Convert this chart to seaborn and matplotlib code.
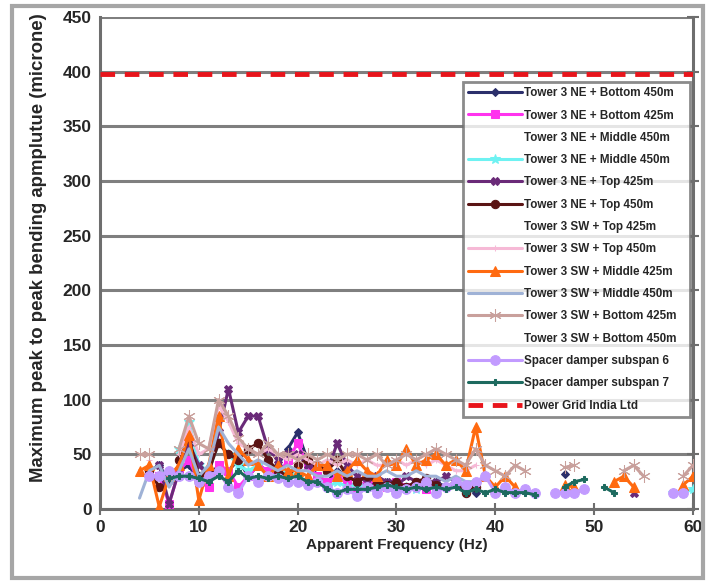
import numpy as np
import pandas as pd
import seaborn as sns
import matplotlib.pyplot as plt
from matplotlib.patches import Rectangle

nan = np.nan

# frequency grid (Hz), gaps in the measurements are NaN
freq = [4, 5, 6, 7, 8, 9, 10, 11, 12, 13, 14, 15, 16, 17, 18, 19, 20, 21, 22, 23, 24,
        25, 26, 27, 28, 29, 30, 31, 32, 33, 34, 35, 36, 37, 38, 39, 40, 41, 42, 43, 44,
        45, 46, 47, 48, 49, 50, 51, 52, 53, 54, 55, 56, 57, 58, 59, 60]

ne_bottom_450 = [nan, 35, 40, 25, 35, 40, 25, 30, 40, 35, 45, 30, 40, 35, 40, 55, 70, 45, 30, 25, 35,
                 30, 25, 30, 20, 25, 25, 20, 25, 20, 25, 20, 25, 20, 15, nan, nan, nan, nan, nan, nan,
                 nan, nan, 32, nan, nan, nan, nan, nan, nan, nan, nan, nan, nan, nan, nan, nan]
ne_bottom_425 = [nan, 30, 30, 5, 35, 45, 25, 20, 40, 35, 20, 30, 40, 35, 30, 45, 60, 40, 30, 25, 30,
                 25, 20, 25, 25, 20, 25, 20, 22, 18, 20, nan, nan, nan, nan, nan, nan, nan, nan, nan, nan,
                 nan, nan, nan, nan, nan, nan, nan, nan, nan, nan, nan, nan, nan, nan, nan, nan]
ne_middle_450a = [nan, nan, 20, 25, 30, 35, 30, 30, 35, 30, 30, 25, 30, 25, 25, 25, 25, 20, 20, 20, 20,
                  nan, nan, nan, nan, nan, nan, nan, nan, nan, nan, nan, nan, nan, nan, nan, nan, nan, nan, nan, nan,
                  nan, nan, nan, nan, nan, nan, nan, nan, nan, nan, nan, nan, nan, nan, nan, nan]
ne_middle_450b = [nan, nan, nan, nan, 55, 80, 40, 35, 60, 50, 40, 35, 40, 30, 30, 35, 30, 25, 25, 20, 25,
                  20, 22, 20, 18, 20, 18, 20, 18, 20, 18, nan, nan, nan, nan, nan, nan, nan, nan, nan, nan,
                  nan, nan, nan, nan, nan, nan, nan, nan, nan, nan, nan, nan, nan, 15, 15, 18]
ne_top_425 = [nan, nan, 40, 5, 35, 60, 40, 30, 70, 110, 70, 85, 85, 55, 45, 50, 50, 40, 40, 35, 60,
              40, 30, 25, 30, 25, 20, 30, 25, 20, 25, 30, 25, 20, nan, nan, nan, nan, nan, nan, nan,
              nan, nan, nan, nan, nan, nan, nan, nan, nan, 15, nan, nan, nan, nan, nan, nan]
ne_top_450 = [nan, 35, 20, nan, 45, 65, 30, 35, 60, 50, 45, 55, 60, 45, 35, 30, 40, 45, 40, 35, 45,
              30, 25, 30, 25, 22, 25, 20, 25, 28, 22, 20, 25, 15, 20, nan, nan, nan, nan, nan, nan,
              nan, nan, nan, nan, nan, nan, nan, nan, nan, nan, nan, nan, nan, nan, nan, nan]
sw_top_425 = [nan, nan, nan, nan, 20, 25, 20, 22, 25, 22, 20, 20, 22, 20, 18, 20, 18, nan, nan, nan, nan,
              nan, nan, nan, nan, nan, nan, nan, nan, nan, nan, nan, nan, nan, nan, nan, nan, nan, nan, nan, nan,
              nan, nan, nan, nan, nan, nan, nan, nan, nan, nan, nan, nan, nan, nan, nan, nan]
sw_top_450 = [nan, 45, nan, nan, 50, 75, 50, 55, 95, 80, 60, 55, 50, 55, 50, 45, 50, 45, 40, 45, 40,
              45, 40, 45, 40, 40, 45, 40, 45, 40, 45, 40, 35, 35, 40, nan, nan, nan, nan, nan, nan,
              nan, nan, nan, nan, nan, nan, nan, nan, nan, nan, nan, nan, nan, nan, nan, nan]
sw_middle_425 = [35, 40, 2, 30, 40, 68, 8, 40, 85, 30, 55, 45, 40, 30, 40, 35, 35, 30, 40, 40, 30,
                 35, 45, 35, 30, 45, 40, 55, 40, 45, 50, 40, 45, 35, 75, 30, 20, 30, 20, nan, nan,
                 nan, nan, 22, 20, nan, nan, nan, 25, 30, 20, nan, nan, nan, nan, 22, 30]
sw_middle_450 = [10, 35, 40, 20, 35, 55, 30, 40, 75, 60, 50, 40, 45, 40, 35, 40, 35, 35, 30, 30, 35,
                 30, 35, 30, 30, 35, 30, 30, 35, 30, 30, 25, 30, 25, 25, nan, nan, nan, nan, nan, nan,
                 nan, nan, nan, nan, nan, nan, nan, nan, nan, nan, nan, nan, nan, nan, nan, nan]
sw_bottom_425 = [50, 50, nan, nan, 55, 85, 60, 55, 100, 85, 65, 55, 50, 60, 50, 50, 45, 50, 45, 50, 45,
                 50, 50, 45, 50, 40, 45, 50, 45, 50, 55, 50, 45, 40, 55, 40, 35, 30, 40, 35, nan,
                 nan, nan, 38, 40, nan, nan, nan, nan, 35, 40, 30, nan, nan, nan, 30, 40]
sw_bottom_450 = [nan, nan, nan, nan, nan, nan, nan, nan, nan, nan, nan, nan, nan, nan, nan, nan, nan, nan, nan, nan, nan,
                 nan, 18, 20, 18, 15, 18, 20, 18, 15, 18, nan, nan, nan, nan, nan, nan, nan, nan, nan, nan,
                 nan, nan, nan, nan, nan, nan, nan, nan, nan, nan, nan, nan, nan, nan, nan, nan]
subspan_6 = [nan, 30, 30, 35, 30, 30, 25, 30, 35, 20, 15, 30, 25, 30, 28, 25, 25, 22, 25, 20, 15,
             18, 12, 20, 15, 20, 15, 18, 20, 25, 15, 20, 25, 22, 25, 30, 15, 20, 15, 18, 15,
             nan, 15, 15, 15, 18, nan, nan, nan, nan, nan, nan, nan, nan, 15, 15, nan]
subspan_7 = [nan, nan, nan, 28, 30, 30, 28, 25, 30, 25, 35, 28, 30, 28, 30, 28, 30, 25, 25, 18, 15,
             18, 18, 18, 20, 22, 20, 18, 20, 18, 20, 18, 20, 15, 18, 15, 18, 15, 15, 15, 13,
             nan, nan, 20, 25, 27, nan, 20, 15, nan, nan, nan, nan, nan, nan, nan, nan]
power_grid_x = [0, 60]
power_grid_y = [398, 398]

series = [
    ("Tower 3 NE + Bottom 450m", ne_bottom_450, "#2B2F6B", "D", 4),
    ("Tower 3 NE + Bottom 425m", ne_bottom_425, "#FF33EE", "s", 6),
    ("Tower 3 NE + Middle 450m", ne_middle_450a, "white", None, 0),
    ("Tower 3 NE + Middle 450m", ne_middle_450b, "#6EF2F2", "*", 7),
    ("Tower 3 NE + Top 425m", ne_top_425, "#6A2A78", "X", 6),
    ("Tower 3 NE + Top 450m", ne_top_450, "#5A1414", "o", 6),
    ("Tower 3 SW + Top 425m", sw_top_425, "white", None, 0),
    ("Tower 3 SW + Top 450m", sw_top_450, "#F6B9D6", "+", 5),
    ("Tower 3 SW + Middle 425m", sw_middle_425, "#FF6A10", "^", 7),
    ("Tower 3 SW + Middle 450m", sw_middle_450, "#9FB2D6", None, 0),
    ("Tower 3 SW + Bottom 425m", sw_bottom_425, "#C9A09C", (6, 2, 0), 9),
    ("Tower 3 SW + Bottom 450m", sw_bottom_450, "white", None, 0),
    ("Spacer damper subspan 6", subspan_6, "#C29BFF", "o", 7),
    ("Spacer damper subspan 7", subspan_7, "#1D6A5F", "P", 5),
]

sns.set_style("white")
plt.rcParams['font.family'] = ['Liberation Sans Narrow', 'Liberation Sans', 'DejaVu Sans']
plt.rcParams['font.weight'] = 'bold'

fig = plt.figure(figsize=(7.11, 5.84), dpi=100)
ax = fig.add_axes([0.1406, 0.1284, 0.8341, 0.8425])

for label, vals, color, marker, ms in series:
    df = pd.DataFrame({"Frequency": freq, "Amp": vals})
    df["seg"] = df["Amp"].isna().cumsum()
    df = df.dropna()
    first = True
    z = 2 if color == "white" else 3
    for _, part in df.groupby("seg"):
        sns.lineplot(data=part, x="Frequency", y="Amp", ax=ax, color=color,
                     marker=marker if marker is not None else "", markersize=ms,
                     markeredgecolor=color, linewidth=2.2,
                     label=label if first else None, legend=False, zorder=z)
        first = False

sns.lineplot(x=power_grid_x, y=power_grid_y, ax=ax, color="#E8141B", linewidth=3.5,
             dashes=False, linestyle=(0, (3, 2)), label="Power Grid India Ltd", zorder=4)

ax.set_xlim(0, 60)
ax.set_ylim(0, 450)
ax.set_xticks(range(0, 61, 10))
ax.set_yticks(range(0, 451, 50))
ax.yaxis.grid(True, color="#7F7F7F", linewidth=2.2)
ax.set_axisbelow(True)
for side in ["left", "bottom", "right"]:
    ax.spines[side].set_visible(True)
    ax.spines[side].set_color("#6E6E6E")
    ax.spines[side].set_linewidth(2.2)
ax.spines["top"].set_visible(False)
ax.tick_params(axis="both", direction="inout", length=8, width=1.5, color="#6E6E6E",
               labelsize=12.5, pad=2)
ax.tick_params(axis="y", right=True)
ax.tick_params(axis="x", bottom=True, pad=4)
for t in ax.get_xticklabels() + ax.get_yticklabels():
    t.set_fontweight("bold")

ax.set_xlabel("Apparent Frequency (Hz)", fontsize=11, fontweight="bold", labelpad=2)
ax.set_ylabel("Maximum peak to peak bending apmplutue (microne)", fontsize=13.4,
              fontweight="bold")
ax.yaxis.set_label_coords(-0.09, 0.532)

handles, labels = ax.get_legend_handles_labels()
leg = ax.legend(handles, labels, loc="upper left", bbox_to_anchor=(0.612, 0.868, 0.383, 0.0),
                mode="expand", fontsize=8.4, frameon=True, fancybox=False, handlelength=4.6,
                borderpad=0.45, labelspacing=0.885, handletextpad=0.2, borderaxespad=0)
leg.get_frame().set_edgecolor("#6E6E6E")
leg.get_frame().set_linewidth(2)
for t in leg.get_texts():
    t.set_fontweight("bold")

fig.patches.append(Rectangle((12 / 711, 6 / 584), 691 / 711, 572 / 584, transform=fig.transFigure,
                             fill=False, edgecolor="#A6A6A6", linewidth=3))

plt.savefig("out.png", dpi=100)
